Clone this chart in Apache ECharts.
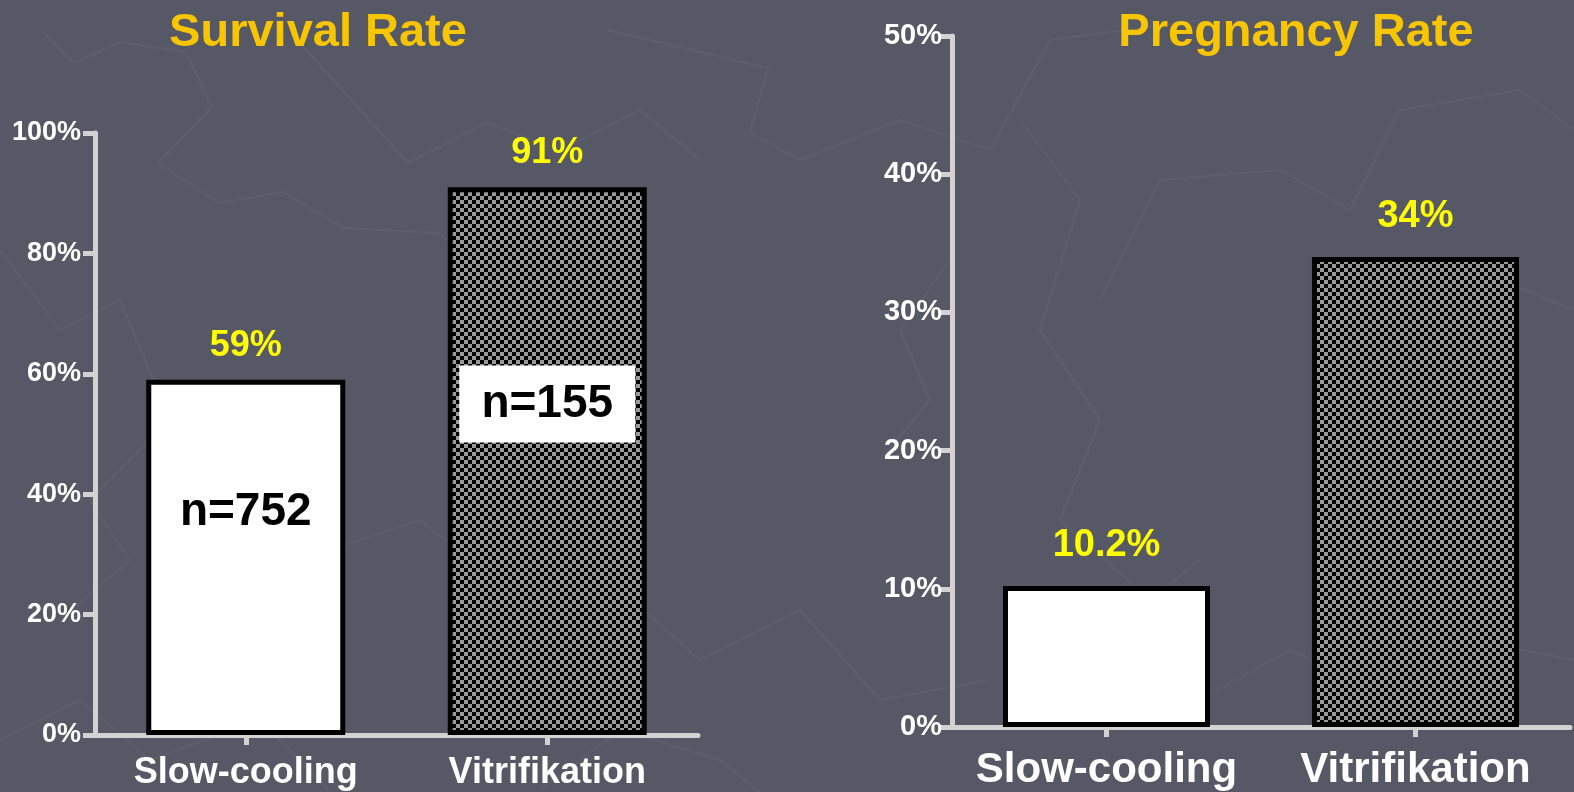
<!DOCTYPE html>
<html>
<head>
<meta charset="utf-8">
<script src="https://cdn.jsdelivr.net/npm/echarts@6/dist/echarts.min.js"></script>
<style>
  html, body { margin: 0; padding: 0; background: #565866; }
  #chart { width: 1574px; height: 792px; }
</style>
</head>
<body>
<div id="chart"></div>
<script>
// Survival and pregnancy rates after slow-cooling vs. vitrification
const categories = ['Slow-cooling', 'Vitrifikation'];
const survivalRate = [59, 91];
const pregnancyRate = [10.2, 34];
const sampleSizes = [752, 155];
const sampleLabelLevels = [37, 55];
const survivalTicks = { min: 0, max: 100, interval: 20 };
const pregnancyTicks = { min: 0, max: 50, interval: 10 };

const FONT = '"Liberation Sans", Arial, sans-serif';
const AXIS_GREY = '#d2d2d2';

// Checkerboard fill for the vitrification bars
function checkerPattern() {
  const c = document.createElement('canvas');
  c.width = 8; c.height = 8;
  const g = c.getContext('2d');
  g.fillStyle = '#9a9a9a';
  g.fillRect(0, 0, 8, 8);
  g.fillStyle = '#000000';
  g.fillRect(0, 0, 4, 4);
  g.fillRect(4, 4, 4, 4);
  return { image: c, repeat: 'repeat' };
}
const checker = checkerPattern();

function barData(values) {
  return values.map((v, i) => ({
    value: v,
    itemStyle: { color: i === 0 ? '#ffffff' : checker }
  }));
}

function yAxis(gridIndex, ticks, fontSize, margin) {
  return {
    type: 'value', gridIndex,
    min: ticks.min, max: ticks.max, interval: ticks.interval,
    axisLine: { show: true, lineStyle: { color: AXIS_GREY, width: 5 } },
    axisTick: { show: true, length: 12, lineStyle: { color: AXIS_GREY, width: 5 } },
    splitLine: { show: false },
    axisLabel: {
      formatter: '{value}%', color: '#ffffff', fontFamily: FONT,
      fontWeight: 'bold', fontSize, margin
    }
  };
}

function xAxis(gridIndex, fontSize, margin) {
  return {
    type: 'category', gridIndex, data: categories,
    axisLine: { show: true, lineStyle: { color: AXIS_GREY, width: 5 } },
    axisTick: { show: true, alignWithLabel: true, length: 10, lineStyle: { color: AXIS_GREY, width: 5 } },
    axisLabel: {
      interval: 0, hideOverlap: false,
      color: '#ffffff', fontFamily: FONT, fontWeight: 'bold', fontSize, margin
    }
  };
}

// Faint slide-background texture
const texturePaths = [
  [[43, 32], [74, 63], [120, 42], [186, 52], [212, 107], [158, 163], [219, 203], [283, 192], [344, 228], [439, 233], [520, 300], [600, 340]],
  [[291, 33], [408, 163], [487, 123], [560, 150], [640, 110], [700, 160]],
  [[607, 30], [768, 68], [750, 133], [800, 160], [900, 120], [990, 150], [1050, 40], [1200, 20]],
  [[0, 250], [60, 330], [120, 300], [170, 420], [90, 500], [130, 560], [60, 620]],
  [[300, 560], [420, 520], [520, 600], [610, 580], [700, 660], [800, 610], [880, 700], [990, 680]],
  [[1100, 300], [1160, 180], [1280, 170], [1350, 210], [1400, 110], [1520, 90], [1574, 130]],
  [[1020, 120], [1080, 200], [1040, 330], [1100, 420], [1060, 520], [1150, 600], [1200, 560]],
  [[1430, 330], [1500, 280], [1574, 310]],
  [[1200, 700], [1290, 650], [1380, 690], [1470, 640], [1574, 660]],
  [[0, 740], [80, 700], [150, 760], [260, 720], [330, 792]],
  [[540, 790], [620, 730], [720, 760], [760, 792]],
  [[880, 460], [930, 400], [900, 330], [950, 260]]
];
const textureGraphics = texturePaths.map(pts => ({
  type: 'polyline', silent: true, z: -10,
  shape: { points: pts },
  style: { stroke: 'rgba(255,255,255,0.04)', lineWidth: 2, fill: null }
}));

const chart = echarts.init(document.getElementById('chart'), null, { renderer: 'canvas' });

chart.setOption({
  backgroundColor: '#565866',
  animation: false,
  graphic: textureGraphics,
  title: [
    { text: 'Survival Rate', left: 313, top: 5, textAlign: 'center',
      textStyle: { color: '#f7c600', fontFamily: FONT, fontWeight: 'bold', fontSize: 47 } },
    { text: 'Pregnancy Rate', left: 1291, top: 5, textAlign: 'center',
      textStyle: { color: '#f7c600', fontFamily: FONT, fontWeight: 'bold', fontSize: 47 } }
  ],
  grid: [
    { left: 95, right: 876, top: 133, bottom: 57 },
    { left: 952, right: 4, top: 36, bottom: 65 }
  ],
  xAxis: [xAxis(0, 36, 20), xAxis(1, 42, 22)],
  yAxis: [yAxis(0, survivalTicks, 27, 14), yAxis(1, pregnancyTicks, 29, 10)],
  series: [
    {
      name: 'Survival Rate', type: 'bar', xAxisIndex: 0, yAxisIndex: 0,
      barWidth: '66%',
      data: barData(survivalRate),
      itemStyle: { borderColor: '#000000', borderWidth: 5 },
      label: {
        show: true, position: 'top', distance: 16, formatter: '{c}%',
        color: '#ffff00', fontFamily: FONT, fontWeight: 'bold', fontSize: 36
      },
      markPoint: {
        silent: true,
        data: sampleSizes.map((n, i) => ({
          coord: [categories[i], sampleLabelLevels[i]],
          symbol: 'rect',
          symbolSize: i === 0 ? [1, 1] : [176, 77],
          itemStyle: { color: '#ffffff', borderWidth: 0 },
          label: {
            show: true, position: 'inside', formatter: 'n=' + n,
            color: '#000000', fontFamily: FONT, fontWeight: 'bold', fontSize: 46
          }
        }))
      }
    },
    {
      name: 'Pregnancy Rate', type: 'bar', xAxisIndex: 1, yAxisIndex: 1,
      barWidth: '67%',
      data: barData(pregnancyRate),
      itemStyle: { borderColor: '#000000', borderWidth: 5 },
      label: {
        show: true, position: 'top', distance: 22, formatter: '{c}%',
        color: '#ffff00', fontFamily: FONT, fontWeight: 'bold', fontSize: 38
      }
    }
  ]
});
</script>
</body>
</html>
